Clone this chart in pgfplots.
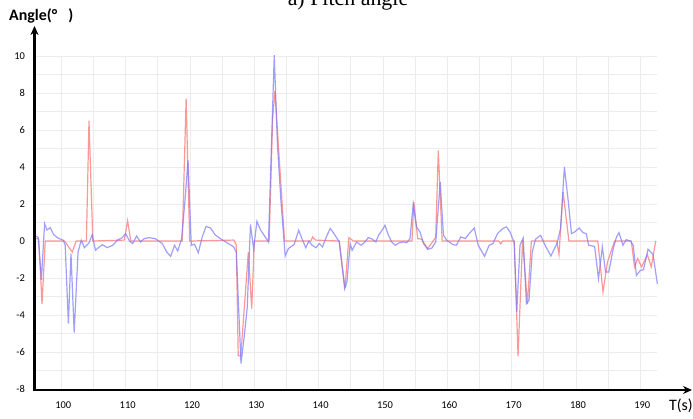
\documentclass[border=0pt]{standalone}
\usepackage{pgfplots}
\pgfplotsset{compat=1.18}
\usepackage{fontspec}
\setmainfont{Carlito}
\newfontfamily\titlefont{Liberation Serif}
\usetikzlibrary{arrows.meta}
\definecolor{redline}{RGB}{250,110,110}
\definecolor{blueline}{RGB}{120,120,250}
\definecolor{gridc}{RGB}{236,236,236}
\begin{document}
\begin{tikzpicture}[x=1bp,y=1bp]
\useasboundingbox (0,0) rectangle (693,418);
\begin{axis}[
  at={(34.5bp,29bp)}, anchor=south west,
  scale only axis, width=622.5bp, height=333bp,
  xmin=95.83, xmax=192.6, ymin=-8, ymax=10,
  axis line style={draw=none},
  xtick={100,110,...,190},
  minor xtick={105,115,...,185},
  ytick={-8,-6,...,10},
  yticklabels={-8,-6,-4,-2,0,2,4,6,8,10},
  minor ytick={-7,-5,...,9},
  grid=both,
  major grid style={gridc, line width=0.8bp},
  minor grid style={gridc, line width=0.8bp},
  major tick length=0pt, minor tick length=0pt,
  tick label style={font=\fontsize{10.5}{12}\selectfont, text=black},
  xticklabel style={yshift=-9bp, xshift=2bp},
  yticklabel style={xshift=-6bp},
  /pgf/number format/assume math mode=true,
  clip=false,
]
\addplot[redline, line width=1.2bp, opacity=0.7] coordinates {
(96.0,0.15) (96.5,0.1) (97.0,-3.4) (97.5,0) (100.5,0) (101.7,-0.6) (102.3,0)
(103.9,0) (104.3,6.5) (104.9,0) (109.8,0.05) (110.3,1.1) (110.8,0)
(118.8,0) (119.4,7.7) (119.95,0) (126.8,0.05) (127.2,-0.2) (127.5,-6.2)
(127.9,-6.2) (129.07,-0.6) (129.6,-3.66) (130.0,0) (132.3,0) (132.85,6.6)
(133.2,8.1) (134.7,0) (138.8,0) (139.07,0.22) (139.5,0.05) (143.2,0)
(144.1,-2.55) (144.7,0.18) (145.4,0) (154.5,0) (154.8,2.1) (155.4,0.13)
(156.0,0.1) (156.95,-0.41) (157.8,0) (158.2,0.2) (158.6,4.9) (159.2,0)
(168.0,0) (168.3,-0.15) (168.6,0) (170.4,0) (171.0,-6.22) (171.7,0.04)
(172.45,-3.39) (173.07,0) (177.0,0) (177.36,-0.72) (178.0,2.65) (178.9,0)
(183.4,0) (184.2,-2.76) (184.9,-1.14) (186.0,0) (188.6,0) (189.1,-1.4)
(189.6,-0.95) (190.2,-1.4) (191.1,-0.74) (191.7,-1.4) (192.4,0)
};
\addplot[blueline, line width=1.2bp, opacity=0.7] coordinates {
(96.0,0.27) (96.4,0.2) (96.9,-2.1) (97.4,0.94) (97.75,0.6) (98.3,0.72)
(98.8,0.34) (99.5,0.16) (100.3,0.04) (100.6,-0.23) (101.1,-4.47) (101.5,-0.68)
(102.0,-4.95) (102.6,-0.6) (103.1,0.04) (103.6,-0.36) (104.3,-0.1) (104.8,0.34)
(105.3,-0.5) (105.9,-0.32) (106.4,-0.2) (107.1,-0.36) (108.0,-0.23) (108.8,0.07)
(109.4,0.16) (110.0,0.4) (110.6,0) (111.1,-0.14) (111.7,0.27) (112.3,-0.05)
(112.9,0.13) (113.6,0.18) (114.6,0.13) (115.7,-0.14) (116.4,-0.6) (117.0,-0.83)
(117.6,-0.23) (118.1,-0.54) (118.7,0.13) (119.2,2.1) (119.7,4.36) (120.2,-0.23)
(120.7,-0.18) (121.3,-0.63) (121.9,0.22) (122.5,0.79) (123.2,0.7) (123.9,0.34)
(124.7,0.13) (125.8,-0.1) (126.8,-0.32) (127.2,-0.6) (127.93,-6.63) (128.45,-5.1)
(128.9,-3.6) (129.4,0.9) (129.9,-0.45) (130.4,1.06) (131.0,0.58) (132.2,-0.05)
(133.1,10.04) (133.6,5.17) (134.15,2.1) (134.8,-0.81) (135.3,-0.41) (136.2,-0.18)
(136.9,0.58) (137.4,0.13) (138.0,-0.36) (138.5,0) (138.97,-0.23) (139.6,-0.36)
(140.1,-0.14) (140.6,-0.32) (141.3,0.31) (141.8,0.67) (142.4,0.4) (143.2,-0.05)
(144.05,-2.58) (144.4,-2.2) (144.9,-0.14) (145.2,-0.5) (145.9,-0.05) (146.6,-0.23)
(147.2,-0.05) (147.7,0.18) (148.2,0.13) (148.9,-0.05) (149.3,0.31) (149.9,0.6)
(150.3,0.85) (150.8,0.36) (151.35,-0.05) (151.9,-0.23) (152.5,-0.1) (153.2,-0.05)
(153.7,-0.09) (154.2,0.13) (154.7,2.0) (155.2,0.76) (155.75,0.49) (156.3,-0.14)
(156.95,-0.45) (157.6,-0.38) (158.2,-0.05) (158.9,3.19) (159.4,0.31) (159.9,0.05)
(160.8,-0.18) (161.4,-0.23) (162.1,0.22) (162.8,0.13) (163.4,0.4) (164.2,0.7)
(164.8,-0.23) (165.8,-0.83) (166.5,-0.23) (167.1,-0.14) (167.8,0.4) (168.6,0.67)
(169.2,0.76) (169.75,0.49) (170.4,-0.09) (170.8,-3.84) (171.3,-0.23) (171.8,0.16)
(172.3,-3.39) (172.7,-3.2) (173.2,-0.6) (173.7,0.09) (174.5,0.31) (175.2,-0.23)
(176.1,-0.81) (176.6,-0.45) (177.05,-0.14) (177.6,0.67) (178.2,4.0) (178.76,2.29)
(179.3,0.4) (179.8,0.49) (180.5,0.7) (181.1,0.45) (181.6,0.4) (181.97,-0.23)
(182.9,-0.29) (183.5,-2.04) (184.1,-0.32) (184.6,-1.68) (185.1,-1.68) (185.8,-0.41)
(186.3,0.22) (186.7,0.45) (187.3,-0.23) (187.8,0.07) (188.45,0) (188.9,-0.23)
(189.4,-1.86) (190.0,-1.59) (190.5,-1.55) (191.2,-0.45) (191.98,-0.72) (192.65,-2.31)
};
\end{axis}
% axis lines with arrows
\draw[line width=2.2bp, -{Stealth[length=9bp,width=8bp]}] (34.5,28) -- (34.5,392);
\draw[line width=2.2bp, -{Stealth[length=9bp,width=8bp]}] (33.4,28) -- (692,28);
\node[anchor=west, font=\bfseries\fontsize{16}{18}\selectfont, inner sep=0pt] at (9,402) {Angle(°\hspace{0.7em})};
\node[anchor=east, font=\fontsize{16}{18}\selectfont, inner sep=0pt] at (693,12) {T(s)};
\node[anchor=base, font=\titlefont\fontsize{22}{26}\selectfont, inner sep=0pt] at (348,412) {a) Pitch angle};
\end{tikzpicture}
\end{document}
